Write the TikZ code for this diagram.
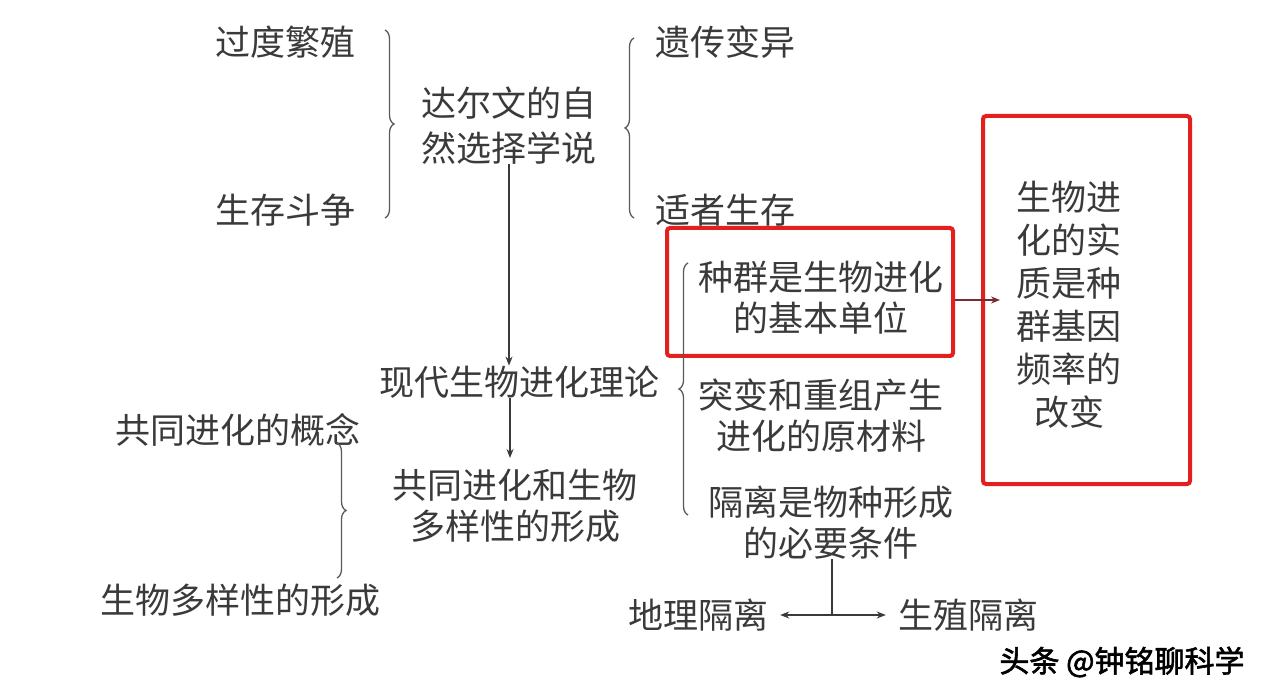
\documentclass[tikz,border=0pt]{standalone}
\usepackage{fontspec}
\setmainfont{Noto Sans CJK SC}
\newfontfamily\wmfont[FakeBold=2]{Noto Sans CJK SC}
\usetikzlibrary{decorations.pathreplacing,arrows.meta}
\definecolor{txt}{HTML}{3A3A3A}
\definecolor{brc}{HTML}{5A5A5A}
\definecolor{boxred}{HTML}{E3201F}
\definecolor{darkred}{HTML}{7A2A34}
\begin{document}
\begin{tikzpicture}[x=1pt,y=-1pt,
  lbl/.style={text=txt,font=\fontsize{35}{41}\selectfont,inner sep=0pt,align=center},
  lblwide/.style={lbl,font=\fontsize{35}{45}\selectfont},
  lblbox/.style={lbl,font=\fontsize{35}{43}\selectfont},
  bracestyle/.style={decorate,decoration={brace,amplitude=9pt},draw=brc,line width=1.3pt},
  conn/.style={draw=txt,line width=1.3pt},
  arr/.style={conn,-{Stealth[length=9pt,width=7pt]}},
  redbox/.style={draw=boxred,line width=4pt,rounded corners=3pt,inner sep=0pt}
]
\useasboundingbox[fill=white] (0,0) rectangle (1274,700);

% top group
\node[lbl] (excess) at (285,42) {过度繁殖};
\node[lbl] (struggle) at (285,210) {生存斗争};
\node[lblwide] (darwin) at (509,125.5) {达尔文的自\\然选择学说};
\node[lbl] (variation) at (725,42) {遗传变异};
\node[lbl] (survival) at (725,210) {适者生存};

\coordinate (bA1) at (385,30);  \coordinate (bA2) at (385,218);
\coordinate (bB1) at (634,218); \coordinate (bB2) at (634,38);
\draw[bracestyle] (bA1) -- (bA2);
\draw[bracestyle] (bB1) -- (bB2);

% modern theory
\node[lbl] (modern) at (519,382) {现代生物进化理论};
\draw[arr] (darwin.south) -- (darwin.south |- modern.north);

% coevolution
\node[lbl] (coconcept) at (238,430) {共同进化的概念};
\node[lbl] (coevo) at (515,506) {共同进化和生物\\多样性的形成};
\node[lbl] (diversity) at (240,600) {生物多样性的形成};
\draw[arr] ([xshift=-9pt]modern.south) -- ([xshift=-9pt]modern.south |- 0,458);
\coordinate (bC1) at (337,443); \coordinate (bC2) at (337,578);
\draw[bracestyle] (bC1) -- (bC2);

% right column
\node[redbox,minimum width=286pt,minimum height=128pt] (ubox) at (810,292) {};
\node[lbl] (unit) at (821,297.5) {种群是生物进化\\的基本单位};
\node[lbl] (mutation) at (821,416) {突变和重组产生\\进化的原材料};
\node[lbl] (isolation) at (831,522.5) {隔离是物种形成\\的必要条件};
\coordinate (bD1) at (688,515); \coordinate (bD2) at (688,263);
\draw[bracestyle] (bD1) -- (bD2);

% essence box
\node[redbox,minimum width=207pt,minimum height=368pt] (ebox) at (1086.5,300) {};
\node[lblbox] (essence) at (1069,304.5) {生物进\\化的实\\质是种\\群基因\\频率的\\改变};
\draw[draw=darkred,line width=1.3pt,-{Stealth[length=9pt,width=7pt]}]
  ([yshift=-8pt]ubox.east) -- ([yshift=-8pt,xshift=19pt]ubox.east -| ebox.west);

% isolation types
\node[lbl] (geo) at (698,615) {地理隔离};
\node[lbl] (repro) at (968,615) {生殖隔离};
\coordinate (junc) at (832,615);
\draw[conn] (isolation.south -| junc) -- (junc);
\draw[arr] (junc) -- ([xshift=12pt]geo.east);
\draw[arr] (junc) -- ([xshift=-12pt]repro.west);

% watermark
\node[inner sep=0pt,text=black,font=\wmfont\fontsize{30}{32}\selectfont] (wm) at (1122,662) {头条 @钟铭聊科学};
\end{tikzpicture}
\end{document}
